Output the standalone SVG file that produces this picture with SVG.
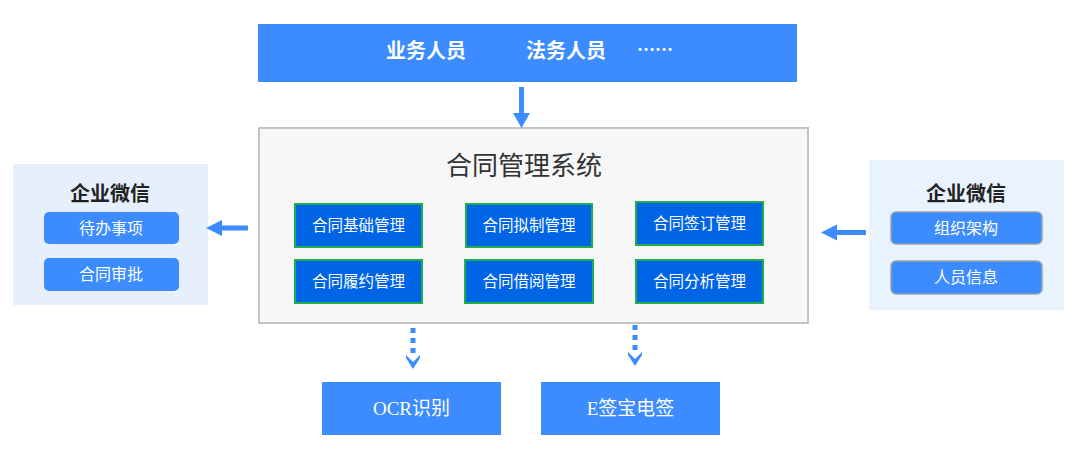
<svg xmlns="http://www.w3.org/2000/svg" width="1080" height="469" viewBox="0 0 1080 469">
<style>
.bar{fill:#3c8cff}
.t-top{font-family:"Noto Sans CJK SC",serif;font-weight:bold;font-size:20px;fill:#ffffff;text-anchor:middle}
.dots{font-family:"Liberation Serif",serif;font-weight:bold;font-size:18px;fill:#ffffff;text-anchor:middle}
.main{fill:#f7f7f7;stroke:#c4c4c4;stroke-width:2}
.title{font-family:"Noto Sans CJK SC",sans-serif;font-size:26px;fill:#333333;text-anchor:middle}
.mod{fill:#0064e6;stroke:#1fae4f;stroke-width:2}
.t-mod{font-family:"Noto Sans CJK SC",sans-serif;font-size:15.5px;fill:#ffffff;text-anchor:middle}
.panel-l{fill:#e5f0fc}
.panel-r{fill:#e8f3fd}
.ptitle{font-family:"Noto Sans CJK SC",serif;font-weight:bold;font-size:20px;fill:#222222;text-anchor:middle}
.btn{fill:#3c8cff}
.btn-r{fill:#3c8cff;stroke:#9aa3ad;stroke-width:1.5}
.t-btn{font-family:"Noto Sans CJK SC",sans-serif;font-size:16px;fill:#ffffff;text-anchor:middle}
.ext{fill:#3c8cff}
.t-ext{font-family:"Liberation Serif","Noto Sans CJK SC",serif;font-size:19px;fill:#ffffff;text-anchor:middle}
.arr{fill:#3c8cff}
</style>
<g id="users">
<rect class="bar" x="258" y="24" width="539" height="58"/>
<text class="t-top" x="426" y="58">业务人员</text>
<text class="t-top" x="566" y="58">法务人员</text>
<text class="dots" x="655" y="56">······</text>
</g>
<g id="system">
<rect class="main" x="259" y="128" width="549" height="195"/>
<text class="title" x="524" y="175">合同管理系统</text>
</g>
<g id="mod1"><rect class="mod" x="295" y="204" width="127" height="43"/><text class="t-mod" x="358.5" y="231">合同基础管理</text></g>
<g id="mod2"><rect class="mod" x="466" y="204" width="126" height="43"/><text class="t-mod" x="529" y="231">合同拟制管理</text></g>
<g id="mod3"><rect class="mod" x="636" y="202" width="127" height="43"/><text class="t-mod" x="699.5" y="229">合同签订管理</text></g>
<g id="mod4"><rect class="mod" x="295" y="260" width="127" height="43"/><text class="t-mod" x="358.5" y="287">合同履约管理</text></g>
<g id="mod5"><rect class="mod" x="465" y="260" width="128" height="43"/><text class="t-mod" x="529" y="287">合同借阅管理</text></g>
<g id="mod6"><rect class="mod" x="636" y="260" width="127" height="43"/><text class="t-mod" x="699.5" y="287">合同分析管理</text></g>
<g id="wecom-left">
<rect class="panel-l" x="13" y="164" width="195" height="141"/>
<text class="ptitle" x="110" y="201">企业微信</text>
<rect class="btn" x="44" y="212" width="135" height="32" rx="5"/>
<text class="t-btn" x="111" y="234">待办事项</text>
<rect class="btn" x="44" y="258" width="135" height="33" rx="5"/>
<text class="t-btn" x="111" y="280">合同审批</text>
</g>
<g id="wecom-right">
<rect class="panel-r" x="869" y="160" width="195" height="150"/>
<text class="ptitle" x="966" y="201">企业微信</text>
<rect class="btn-r" x="891" y="212" width="151" height="32" rx="5"/>
<text class="t-btn" x="966" y="234">组织架构</text>
<rect class="btn-r" x="891" y="261" width="151" height="33" rx="5"/>
<text class="t-btn" x="966" y="283">人员信息</text>
</g>
<g id="ocr">
<rect class="ext" x="322" y="382" width="179" height="53"/>
<text class="t-ext" x="411.5" y="415">OCR识别</text>
</g>
<g id="esign">
<rect class="ext" x="541" y="382" width="179" height="53"/>
<text class="t-ext" x="630.5" y="415">E签宝电签</text>
</g>
<g id="connectors">
<path class="arr" d="M519 87 H524 V113 H530 L521.5 128 L513 113 H519 Z"/>
<path class="arr" d="M248 225.5 V230.5 H222 V236 L206 228 L222 220 V225.5 Z"/>
<path class="arr" d="M866 230 V235 H837 V240.5 L821 232.5 L837 224.5 V230 Z"/>
<g class="arr">
<rect x="410.5" y="328" width="5" height="5"/>
<rect x="410.5" y="338" width="5" height="5"/>
<rect x="410.5" y="348" width="5" height="5"/>
<path d="M406 355 L413 362 L420 355 L420 358 L413 369 L406 358 Z"/>
<rect x="632.5" y="325" width="5" height="5"/>
<rect x="632.5" y="335" width="5" height="5"/>
<rect x="632.5" y="345" width="5" height="5"/>
<path d="M628 352 L635 359 L642 352 L642 355 L635 366 L628 355 Z"/>
</g>
</g>
</svg>
